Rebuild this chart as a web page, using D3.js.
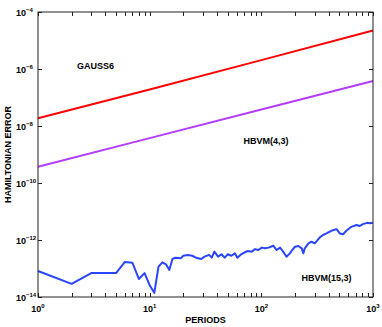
<!DOCTYPE html>
<meta charset="utf-8">
<script src="https://d3js.org/d3.v7.min.js"></script>
<style>
  body { margin: 0; background: #fff; }
  text { font-family: "Liberation Sans", Arial, sans-serif; font-weight: bold; }
</style>
<body>
<div id="chart"></div>
<script>

// periods at which the errors were read
var periods = [1, 2, 3, 4, 5, 6, 7, 8, 9, 10, 11, 12, 13, 14, 15, 16, 17, 19, 20, 22,
  24, 26, 29, 31, 34, 36, 38, 41, 44, 47, 50, 54, 58, 61, 66, 71, 76, 82, 88, 94,
  101, 108, 116, 128, 137, 147, 157, 168, 180, 189, 200, 215, 230, 238, 245, 264,
  281, 301, 334, 357, 383, 424, 472, 504, 539, 577, 640, 711, 761, 813, 885, 934, 1000];

// HBVM(15,3) hamiltonian error (noisy, near round-off)
var hbvm15 = [8.2e-14, 2.9e-14, 6.9e-14, 6.9e-14, 6.9e-14, 1.7e-13, 1.6e-13, 4.3e-14, 6.9e-14, 2.6e-14,
  1.4e-14, 1.16e-13, 1.65e-13, 1.4e-13, 8.9e-14, 2.15e-13, 2.4e-13, 2.3e-13, 2.8e-13, 3.0e-13,
  2.8e-13, 2.4e-13, 2.15e-13, 2.6e-13, 3.0e-13, 2.4e-13, 3.9e-13, 2.6e-13, 3.15e-13, 2.4e-13,
  3.15e-13, 2.8e-13, 3.4e-13, 2.4e-13, 3.15e-13, 3.7e-13, 4.1e-13, 3.9e-13, 4.8e-13, 4.45e-13,
  5.4e-13, 5.1e-13, 5.4e-13, 6.3e-13, 4.45e-13, 5.4e-13, 3.9e-13, 2.6e-13, 3.4e-13, 4.45e-13,
  5.8e-13, 6.15e-13, 5.1e-13, 3.4e-13, 5.1e-13, 7.65e-13, 8.7e-13, 7.65e-13, 1.24e-12, 1.5e-12,
  1.7e-12, 2.1e-12, 2.4e-12, 1.7e-12, 1.6e-12, 2.1e-12, 2.9e-12, 3.36e-12, 3.1e-12, 3.6e-12,
  4.0e-12, 3.85e-12, 4.0e-12];

// GAUSS6 and HBVM(4,3) grow linearly
var linePeriods = [1, 10, 100, 1000];
var gauss6 = [1.86e-8, 1.9e-7, 2.05e-6, 2.24e-5];
var hbvm4 = [3.7e-10, 3.75e-9, 3.8e-8, 3.8e-7];

var xTicks = [1, 10, 100, 1000];
var xExp = ["0", "1", "2", "3"];
var yTicks = [1e-4, 1e-6, 1e-8, 1e-10, 1e-12, 1e-14];
var yExp = ["\u22124", "\u22126", "\u22128", "\u221210", "\u221212", "\u221214"];

var W = 382, H = 327;
var plot = {left: 38, right: 373, top: 12, bottom: 297};

var svg = d3.select("#chart").append("svg")
    .attr("width", W)
    .attr("height", H);

var x = d3.scaleLog().domain([1, 1000]).range([plot.left, plot.right]);
var y = d3.scaleLog().domain([1e-14, 1e-4]).range([plot.bottom, plot.top]);

// minor x ticks 1..9 per decade
var xMinor = [];
[1, 10, 100].forEach(function(d) {
  for (var k = 1; k < 10; k++) xMinor.push(d * k);
});
xMinor.push(1000);

var tl = 4;
var ticks = svg.append("g").attr("stroke", "#222").attr("stroke-width", 1);
xMinor.forEach(function(v) {
  var px = Math.round(x(v)) + 0.5;
  ticks.append("line").attr("x1", px).attr("x2", px).attr("y1", plot.bottom).attr("y2", plot.bottom - tl);
  ticks.append("line").attr("x1", px).attr("x2", px).attr("y1", plot.top).attr("y2", plot.top + tl);
});
yTicks.forEach(function(v) {
  var py = Math.round(y(v)) + 0.5;
  ticks.append("line").attr("x1", plot.left).attr("x2", plot.left + tl).attr("y1", py).attr("y2", py);
  ticks.append("line").attr("x1", plot.right).attr("x2", plot.right - tl).attr("y1", py).attr("y2", py);
});

// the lines
var line = d3.line()
  .x(function(d) { return x(d[0]); })
  .y(function(d) { return y(d[1]); });

svg.append("path")
  .datum(linePeriods.map(function(p, i) { return [p, gauss6[i]]; }))
  .attr("d", line)
  .attr("fill", "none")
  .attr("stroke", "#ff0000")
  .attr("stroke-width", 2);

svg.append("path")
  .datum(linePeriods.map(function(p, i) { return [p, hbvm4[i]]; }))
  .attr("d", line)
  .attr("fill", "none")
  .attr("stroke", "#b43cff")
  .attr("stroke-width", 2);

svg.append("path")
  .datum(periods.map(function(p, i) { return [p, hbvm15[i]]; }))
  .attr("d", line)
  .attr("fill", "none")
  .attr("stroke", "#2a45ff")
  .attr("stroke-width", 2)
  .attr("stroke-linejoin", "round");

// box
svg.append("rect")
  .attr("x", plot.left)
  .attr("y", plot.top)
  .attr("width", plot.right - plot.left)
  .attr("height", plot.bottom - plot.top)
  .attr("fill", "none")
  .attr("stroke", "#222")
  .attr("stroke-width", 1);

// x tick labels
xTicks.forEach(function(v, i) {
  var t = svg.append("text")
    .attr("x", x(v))
    .attr("y", 311.5)
    .attr("text-anchor", "middle")
    .attr("font-size", 9);
  t.append("tspan").text("10");
  t.append("tspan").attr("dy", -4).attr("font-size", 6).text(xExp[i]);
});

// y tick labels
yTicks.forEach(function(v, i) {
  var t = svg.append("text")
    .attr("x", 16)
    .attr("y", y(v) + 3.5)
    .attr("font-size", 9);
  t.append("tspan").text("10");
  t.append("tspan").attr("dy", -4).attr("font-size", 6).text(yExp[i]);
});

// axis titles
svg.append("text")
  .attr("x", (plot.left + plot.right) / 2)
  .attr("y", 323)
  .attr("text-anchor", "middle")
  .attr("font-size", 9)
  .text("PERIODS");

svg.append("text")
  .attr("transform", "translate(11," + ((plot.top + plot.bottom) / 2) + ") rotate(-90)")
  .attr("text-anchor", "middle")
  .attr("font-size", 9)
  .text("HAMILTONIAN ERROR");

// curve labels
svg.append("text").attr("x", 77).attr("y", 69).attr("font-size", 9).text("GAUSS6");
svg.append("text").attr("x", 243.5).attr("y", 144.3).attr("font-size", 9).text("HBVM(4,3)");
svg.append("text").attr("x", 301.5).attr("y", 280.5).attr("font-size", 9).text("HBVM(15,3)");

</script>
</body>
